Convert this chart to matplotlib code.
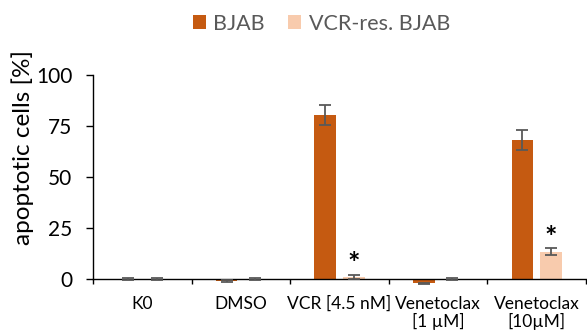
import matplotlib
matplotlib.use("Agg")
import matplotlib.pyplot as plt
import numpy as np

plt.rcParams['font.family'] = ['Lato', 'DejaVu Sans']

categories = ["K0", "DMSO", "VCR [4.5 nM]", "Venetoclax\n[1 µM]", "Venetoclax\n[10µM]"]
series_names = ["BJAB", "VCR-res. BJAB"]
bjab = [0.0, -1.0, 80.3, -2.1, 68.1]
bjab_err = [0.3, 0.5, 5.0, 0.2, 4.7]
res = [0.0, 0.0, 1.0, 0.0, 13.4]
res_err = [0.5, 0.3, 1.0, 0.3, 1.6]
significant_res = [False, False, True, False, True]
yticks = [0, 25, 50, 75, 100]
ylabel = "apoptotic cells [%]"

c_bjab = "#C55A11"
c_res = "#F8CBAD"
c_err = "#595959"

fig = plt.figure(figsize=(5.87, 3.3), dpi=100)
ax = fig.add_axes([93/587, 0.1236, 493/587, 0.6491])

x = np.arange(len(categories)) + 0.5
off = 0.145
w = 0.22
ax.bar(x - off, bjab, w, color=c_bjab, label=series_names[0], zorder=2)
ax.bar(x + off, res, w, color=c_res, label=series_names[1], zorder=2)
ekw = dict(fmt='none', ecolor=c_err, elinewidth=1.3, capsize=4.3, capthick=1.3, zorder=3)
ax.errorbar(x - off, bjab, yerr=bjab_err, **ekw)
ax.errorbar(x + off, res, yerr=res_err, **ekw)

for xi, v, e, s in zip(x, res, res_err, significant_res):
    if s:
        ax.text(xi + off, v + e + 5.2, "*", ha='center', va='center', fontsize=21,
                fontweight='bold', color='black')

ax.set_xlim(0, len(categories))
ax.set_ylim(-5, 100)
ax.spines['top'].set_visible(False)
ax.spines['right'].set_visible(False)
ax.spines['bottom'].set_position(('data', 0))
ax.spines['left'].set_bounds(0, 100)
for sp in ['bottom', 'left']:
    ax.spines[sp].set_linewidth(1.0)
    ax.spines[sp].set_color('black')

ax.set_xticks(np.arange(len(categories) + 1))
ax.set_xticklabels([])
ax.set_xticks(x, minor=True)
ax.set_xticklabels(categories, minor=True, fontsize=12.5, linespacing=1.1)
ax.tick_params(axis='x', which='major', direction='out', length=3.8, width=1.0, color='black')
ax.tick_params(axis='x', which='minor', length=0, pad=12)

ax.set_yticks(yticks)
ax.set_yticklabels([str(t) for t in yticks], fontsize=15)
ax.tick_params(axis='y', direction='out', length=5, width=1.0, pad=10)

fig.text(23/587, 1 - 147.5/330, ylabel, rotation=90, ha='center', va='center', fontsize=17.5)

leg = fig.legend(loc='center', bbox_to_anchor=(321.5/587, 1 - 23.5/330), ncol=2, frameon=False,
                 fontsize=15.5, handlelength=0.6, handleheight=0.6, handletextpad=0.35,
                 columnspacing=1.1, borderpad=0)
for t in leg.get_texts():
    t.set_color("#595959")

fig.savefig("out.png", dpi=100)
